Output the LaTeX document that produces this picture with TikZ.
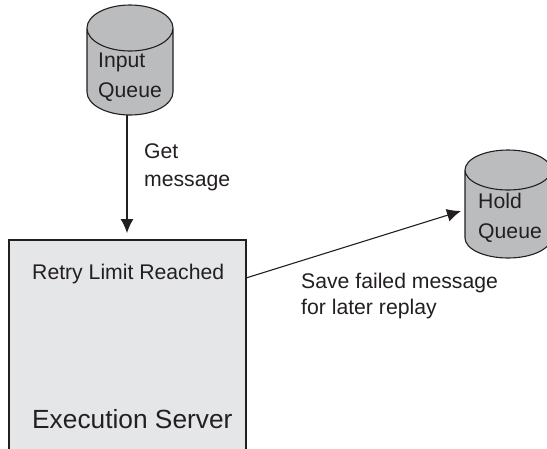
\documentclass[tikz,border=0pt]{standalone}
\usepackage{fontspec}
\setmainfont{Liberation Sans}
\usetikzlibrary{arrows.meta}
\usetikzlibrary{shapes.geometric}
\definecolor{serverfill}{HTML}{E5E6E8}
\definecolor{queuefill}{HTML}{BBBCBE}
\definecolor{inkline}{HTML}{231F20}
\tikzset{
  QueueStyle/.style = {cylinder, shape border rotate=90, draw=inkline, fill=queuefill,
                       line width=1.1pt, minimum width=86pt, minimum height=110pt,
                       shape aspect=2.3, inner sep=10pt, outer sep=0pt, anchor=shape center},
  ServerStyle/.style = {rectangle, draw=inkline, fill=serverfill, line width=1.1pt,
                        minimum width=237pt, minimum height=300pt, outer sep=0pt},
  LabelStyle/.style = {text = inkline, font = \fontsize{21.2}{26}\selectfont, align=left, anchor=west, inner sep=0pt},
  FlowStyle/.style = {draw=inkline, line width=1.1pt, -{Latex[width=13pt,length=14pt]}}
}
\begin{document}
\begin{tikzpicture}[x=1pt,y=-1pt]
  \path[use as bounding box, clip] (0,0) rectangle (547,448);
  \node[QueueStyle] (input) at (130,60) {};
  \node[QueueStyle, shape aspect=2.0, minimum height=108pt] (hold) at (508,204) {};
  \node[ServerStyle] (server) at (127.5,390) {};
  \coordinate (saveout) at (246,278);
  \coordinate (getin) at (127,233);
  \coordinate (holdin) at (461,211);
  \draw[FlowStyle] (input.south -| getin) -- (getin);
  \draw[FlowStyle] (saveout) -- (holdin);
  \node[LabelStyle] (inputlabel) at (98,77) {Input\\[4pt]Queue};
  \node[LabelStyle] (holdlabel) at (478,218) {Hold\\[4pt]Queue};
  \node[LabelStyle] (getlabel) at (144,167) {Get\\[2pt]message};
  \node[LabelStyle] (retrylabel) at (32,274) {Retry Limit Reached};
  \node[LabelStyle] (savelabel) at (301,296) {Save failed message\\[0pt]for later replay};
  \node[LabelStyle, font=\fontsize{26.3}{30}\selectfont] (serverlabel) at (32,419) {Execution Server};
\end{tikzpicture}
\end{document}
